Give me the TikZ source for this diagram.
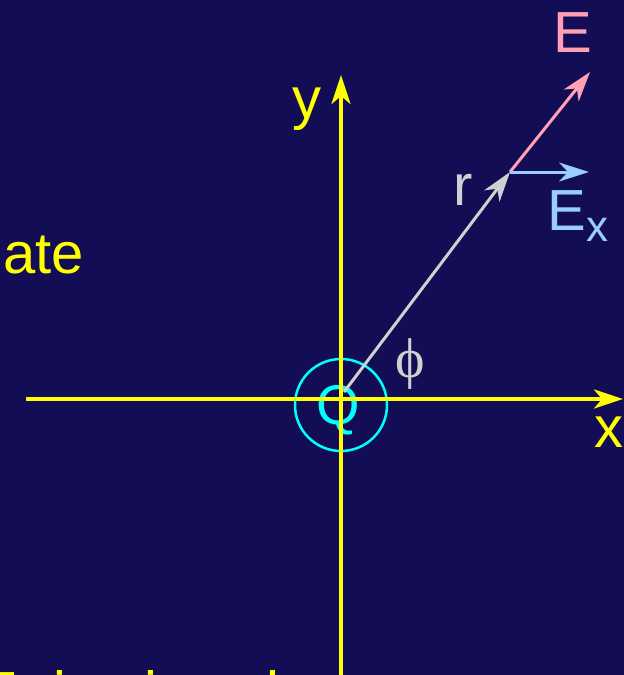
\documentclass[tikz,border=0pt]{standalone}
\usepackage{fontspec}
\setmainfont{Liberation Sans}
\newfontfamily\serifphi{Liberation Serif}
\usetikzlibrary{arrows.meta}
\definecolor{bgblue}{RGB}{18,13,85}
\definecolor{axisyellow}{RGB}{255,255,0}
\definecolor{ringcyan}{RGB}{0,255,255}
\definecolor{rgray}{RGB}{208,208,208}
\definecolor{epink}{RGB}{255,160,180}
\definecolor{exblue}{RGB}{153,204,255}
\begin{document}
\begin{tikzpicture}[x=1pt,y=-1pt,
  lbl/.style={inner sep=0pt, anchor=base west, font=\fontsize{58}{60}\selectfont},
  axis/.style={draw=axisyellow, line width=3.5pt, -{Stealth[length=29pt,width=19pt,inset=8pt]}},
  vec/.style={line width=3pt, -{Stealth[length=30pt,width=19pt,inset=9pt]}}]
\useasboundingbox (0,0) rectangle (624,675);
\fill[bgblue] (0,0) rectangle (624,675);
\clip (0,0) rectangle (624,675);
% ring and charge
\node (ring) [circle, draw=ringcyan, line width=2.5pt, minimum size=92pt, inner sep=0pt] at (341,405) {};
\node (Q) [lbl, text=ringcyan, font=\fontsize{56}{58}\selectfont] at (316,424) {Q};
% axes
\coordinate (xs) at (26,399);
\coordinate (xe) at (623,399);
\coordinate (ys) at (341,676);
\coordinate (ye) at (341,75);
\draw[axis] (xs) -- (xe);
\draw[axis] (ys) -- (ye);
\node (ylab) [lbl, text=axisyellow] at (292,118) {y};
\node (xlab) [lbl, text=axisyellow] at (594,447) {x};
% vectors
\coordinate (r0) at (344,392);
\coordinate (P) at (510,172);
\coordinate (Etip) at (590,72);
\coordinate (Extip) at (589,172);
\draw[vec, draw=rgray] (r0) -- (P);
\draw[vec, draw=epink] (P) -- (Etip);
\draw[vec, draw=exblue] (P) -- (Extip);
\node (rlab) [lbl, text=rgray] at (453,205) {r};
\node (Elab) [lbl, text=epink] at (553,52) {E};
\node (Exlab) [lbl, text=exblue] at (547.5,230) {E\raisebox{-11pt}{\fontsize{44}{44}\selectfont x}};
\node (phi) [inner sep=0pt, text=rgray, font=\fontsize{56}{58}\serifphi] at (410,364) {ϕ};
% text fragments
\node (ate) [lbl, text=axisyellow] at (3,273) {ate};
\node (given) [lbl, text=axisyellow] at (-21,712) {E\raisebox{-11pt}{\fontsize{40}{40}\selectfont x} is given by:};
\end{tikzpicture}
\end{document}
